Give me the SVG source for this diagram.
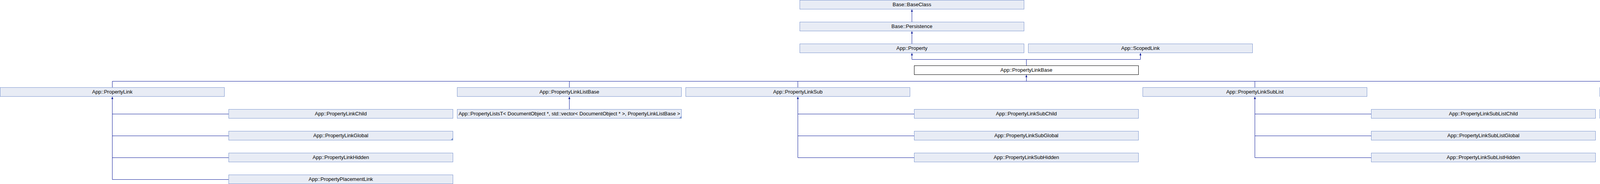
<svg xmlns="http://www.w3.org/2000/svg" width="5255" height="472" viewBox="0 0 5255 472">
<style>
.box rect{fill:#E8ECF5;stroke:#7C96CF;stroke-width:1}
.box polygon{fill:#7C96CF}
.cur rect{fill:#FFFFFF;stroke:#000000;stroke-width:1}
text{font-family:"Liberation Sans",Arial,sans-serif;font-size:13px;fill:#000000;text-anchor:middle}
.edges path{fill:none;stroke:#0B1A99;stroke-width:1}
.arr{marker-end:url(#arrow)}
</style>
<defs>
<marker id="arrow" viewBox="0 0 6 5" refX="6" refY="2.5" markerWidth="6" markerHeight="5" markerUnits="userSpaceOnUse" orient="auto">
<path d="M0,0 L6,2.5 L0,5 z" fill="#0B1A99"/>
</marker>
</defs>
<rect width="5255" height="472" fill="#FFFFFF"/>
<g class="edges" id="connectors">
<path class="arr" d="M2334.5,56 V24"/>
<path class="arr" d="M2334.5,112 V80"/>
<path d="M2627.5,168 V152.5 M2334.5,152.5 H2919.5"/>
<path class="arr" d="M2334.5,152.5 V136"/>
<path class="arr" d="M2919.5,152.5 V136"/>
<path d="M287.5,224 V208.5 M1457.5,224 V208.5 M2042.5,224 V208.5 M3212.5,224 V208.5 M4382.5,224 V208.5 M4967.5,224 V208.5 M287.5,208.5 H4967.5"/>
<path class="arr" d="M2627.5,208.5 V192"/>
<path class="arr" d="M287.5,460.5 V248"/>
<path d="M287.5,292.5 H585 M287.5,348.5 H585 M287.5,404.5 H585 M287.5,460.5 H585"/>
<path class="arr" d="M1457.5,280 V248"/>
<path class="arr" d="M2042.5,404.5 V248"/>
<path d="M2042.5,292.5 H2340 M2042.5,348.5 H2340 M2042.5,404.5 H2340"/>
<path class="arr" d="M3212.5,404.5 V248"/>
<path d="M3212.5,292.5 H3510 M3212.5,348.5 H3510 M3212.5,404.5 H3510"/>
<path class="arr" d="M4382.5,280 V248"/>
<path class="arr" d="M4967.5,280 V248"/>
</g>
<g id="BaseClass" class="box"><rect x="2047.5" y="0.5" width="574" height="23"/><text x="2334.5" y="16">Base::BaseClass</text></g>
<g id="Persistence" class="box"><rect x="2047.5" y="56.5" width="574" height="23"/><text x="2334.5" y="72">Base::Persistence</text></g>
<g id="Property" class="box"><rect x="2047.5" y="112.5" width="574" height="23"/><text x="2334.5" y="128">App::Property</text></g>
<g id="ScopedLink" class="box"><rect x="2632.5" y="112.5" width="574" height="23"/><text x="2919.5" y="128">App::ScopedLink</text></g>
<g id="PropertyLinkBase" class="cur"><rect x="2340.5" y="168.5" width="574" height="23"/><text x="2627.5" y="184">App::PropertyLinkBase</text></g>
<g id="PropertyLink" class="box"><rect x="0.5" y="224.5" width="574" height="23"/><text x="287.5" y="240">App::PropertyLink</text></g>
<g id="PropertyLinkListBase" class="box"><rect x="1170.5" y="224.5" width="574" height="23"/><text x="1457.5" y="240">App::PropertyLinkListBase</text></g>
<g id="PropertyLinkSub" class="box"><rect x="1755.5" y="224.5" width="574" height="23"/><text x="2042.5" y="240">App::PropertyLinkSub</text></g>
<g id="PropertyLinkSubList" class="box"><rect x="2925.5" y="224.5" width="574" height="23"/><text x="3212.5" y="240">App::PropertyLinkSubList</text></g>
<g id="PropertyXLinkContainer" class="box"><rect x="4095.5" y="224.5" width="574" height="23"/><text x="4382.5" y="240">App::PropertyXLinkContainer</text></g>
<g id="PropertyXLinkSubList" class="box"><rect x="4680.5" y="224.5" width="574" height="23"/><text x="4967.5" y="240">App::PropertyXLinkSubList</text></g>
<g id="PropertyLinkChild" class="box"><rect x="585.5" y="280.5" width="574" height="23"/><text x="872.5" y="296">App::PropertyLinkChild</text></g>
<g id="PropertyListsT" class="box"><rect x="1170.5" y="280.5" width="574" height="23"/><polygon points="1745,297 1745,304 1738,304"/><text x="1457.5" y="296">App::PropertyListsT&lt; DocumentObject *, std::vector&lt; DocumentObject * &gt;, PropertyLinkListBase &gt;</text></g>
<g id="PropertyLinkSubChild" class="box"><rect x="2340.5" y="280.5" width="574" height="23"/><text x="2627.5" y="296">App::PropertyLinkSubChild</text></g>
<g id="PropertyLinkSubListChild" class="box"><rect x="3510.5" y="280.5" width="574" height="23"/><text x="3797.5" y="296">App::PropertyLinkSubListChild</text></g>
<g id="PropertyExpressionContainer" class="box"><rect x="4095.5" y="280.5" width="574" height="23"/><polygon points="4670,297 4670,304 4663,304"/><text x="4382.5" y="296">App::PropertyExpressionContainer</text></g>
<g id="PropertyXLinkList" class="box"><rect x="4680.5" y="280.5" width="574" height="23"/><text x="4967.5" y="296">App::PropertyXLinkList</text></g>
<g id="PropertyLinkGlobal" class="box"><rect x="585.5" y="336.5" width="574" height="23"/><polygon points="1160,353 1160,360 1153,360"/><text x="872.5" y="352">App::PropertyLinkGlobal</text></g>
<g id="PropertyLinkSubGlobal" class="box"><rect x="2340.5" y="336.5" width="574" height="23"/><text x="2627.5" y="352">App::PropertyLinkSubGlobal</text></g>
<g id="PropertyLinkSubListGlobal" class="box"><rect x="3510.5" y="336.5" width="574" height="23"/><text x="3797.5" y="352">App::PropertyLinkSubListGlobal</text></g>
<g id="PropertyLinkHidden" class="box"><rect x="585.5" y="392.5" width="574" height="23"/><text x="872.5" y="408">App::PropertyLinkHidden</text></g>
<g id="PropertyLinkSubHidden" class="box"><rect x="2340.5" y="392.5" width="574" height="23"/><text x="2627.5" y="408">App::PropertyLinkSubHidden</text></g>
<g id="PropertyLinkSubListHidden" class="box"><rect x="3510.5" y="392.5" width="574" height="23"/><text x="3797.5" y="408">App::PropertyLinkSubListHidden</text></g>
<g id="PropertyPlacementLink" class="box"><rect x="585.5" y="448.5" width="574" height="23"/><text x="872.5" y="464">App::PropertyPlacementLink</text></g>
</svg>
